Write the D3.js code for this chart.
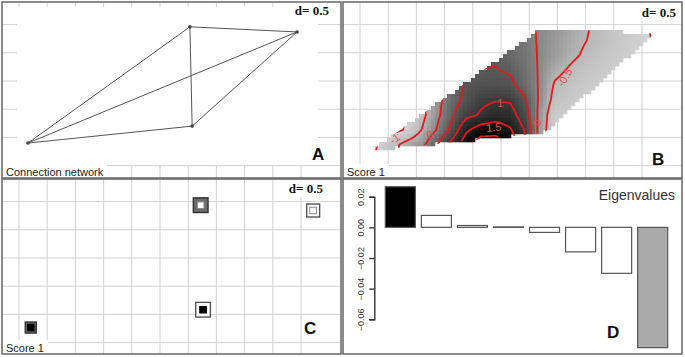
<!DOCTYPE html>
<html lang="en">
<head>
<meta charset="UTF-8">
<script src="https://d3js.org/d3.v7.min.js"></script>
<style>
  body { margin: 0; background: #fff; }
  svg { display: block; font-family: "Liberation Sans", Arial, sans-serif; }
</style>
</head>
<body>
<div id="chart"></div>
<script>
// Sites (coordinates in map units) and their connections
const siteU = [-2.34, 0.53, 2.43, 0.57];
const siteV = [-1.10, 0.96, 0.87, -0.80];
const links = [[0, 1], [0, 2], [0, 3], [1, 2], [1, 3], [2, 3]];

// Score 1 of each site (panel C), and the sign of its neighbourhood mean
const score1 = [0.75, -1.0, -0.88, 1.0];
const lagScore1 = [1, 1, -1, -1];

// Grid lines (d = 0.5)
const gridU = [-2.5, -2, -1.5, -1, -0.5, 0, 0.5, 1, 1.5, 2, 2.5];
const gridV = [1, 0.5, 0, -0.5, -1, -1.5];

// Interpolated score 1 surface (panel B)
const surfaceU = [-2.5, -2.25, -2, -1.75, -1.5, -1.25, -1, -0.75, -0.5, -0.25, 0, 0.25, 0.5, 0.75, 1, 1.25, 1.5, 1.75, 2, 2.25, 2.5];
const surfaceV = [1, 0.75, 0.5, 0.25, 0, -0.25, -0.5, -0.75, -1, -1.25];
const surfaceZ = [
  [-1.2, -1.15, -1.0, -0.8, -0.55, -0.3, 0.0, 0.2, 0.3, 0.3, 0.25, 0.12, -0.05, -0.15, -0.3, -0.45, -0.58, -0.72, -0.85, -0.97, -1.05],
  [-1.2, -1.15, -1.0, -0.8, -0.5, -0.2, 0.1, 0.3, 0.4, 0.38, 0.3, 0.15, -0.05, -0.2, -0.35, -0.48, -0.6, -0.75, -0.85, -0.95, -1.05],
  [-1.2, -1.1, -0.95, -0.7, -0.4, -0.05, 0.25, 0.4, 0.45, 0.45, 0.35, 0.2, -0.05, -0.22, -0.4, -0.55, -0.7, -0.8, -0.87, -0.95, -1.02],
  [-1.2, -1.1, -0.95, -0.7, -0.4, -0.05, 0.3, 0.45, 0.5, 0.52, 0.45, 0.25, -0.05, -0.38, -0.55, -0.7, -0.78, -0.85, -0.9, -0.95, -1.0],
  [-1.2, -1.1, -0.95, -0.7, -0.35, 0.0, 0.3, 0.55, 0.62, 0.65, 0.6, 0.3, -0.05, -0.55, -0.7, -0.8, -0.85, -0.9, -0.92, -0.95, -1.0],
  [-1.25, -1.2, -1.1, -0.9, -0.6, -0.2, 0.3, 0.6, 0.9, 0.97, 0.95, 0.55, -0.08, -0.65, -0.78, -0.85, -0.9, -0.92, -0.95, -0.97, -1.0],
  [-1.3, -1.25, -1.15, -1.0, -0.65, -0.15, 0.4, 0.85, 1.05, 1.25, 1.2, 0.7, -0.15, -0.85, -0.9, -0.92, -0.95, -0.97, -1.0, -1.0, -1.0],
  [-1.35, -1.25, -1.15, -0.95, -0.5, 0.0, 0.6, 1.4, 1.75, 1.8, 1.55, 0.95, -0.2, -0.9, -0.95, -0.97, -1.0, -1.0, -1.0, -1.0, -1.0],
  [-1.3, -1.0, -0.65, -0.35, -0.15, 0.45, 1.15, 1.8, 2.3, 2.3, 1.9, 1.1, -0.2, -0.95, -1.0, -1.0, -1.0, -1.0, -1.0, -1.0, -1.0],
  [-1.3, -0.95, -0.6, -0.3, 0.0, 0.5, 1.2, 1.9, 2.4, 2.4, 2.0, 1.2, -0.2, -0.95, -1.0, -1.0, -1.0, -1.0, -1.0, -1.0, -1.0]
];
const contourLevels = [-1, -0.5, 0, 0.5, 1, 1.5, 2];

// Eigenvalues (panel D)
const eigenvalues = [0.0265, 0.0078, 0.0012, 0.0003, -0.0033, -0.0160, -0.0300, -0.0785];
const eigenTicks = [0.02, 0, -0.02, -0.04, -0.06];

const width = 685, height = 357;
const panelW = 339, panelH = 176;

const svg = d3.select("#chart").append("svg")
  .attr("width", width)
  .attr("height", height);

svg.append("rect").attr("width", width).attr("height", height).attr("fill", "#fff");

const panelA = svg.append("g").attr("transform", "translate(2,2)");
const panelB = svg.append("g").attr("transform", "translate(343,2)");
const panelC = svg.append("g").attr("transform", "translate(2,179)");
const panelD = svg.append("g").attr("transform", "translate(343,179)");

// Scales: grid frame (also used by the network) and data frame for B / C
const gridX = d3.scaleLinear().domain([0, 1]).range([158, 214.4]);
const gridY = d3.scaleLinear().domain([0, 1]).range([79, 22.6]);
const dataX = d3.scaleLinear().domain([0, 1]).range([167.3, 226.5]);
const dataY = d3.scaleLinear().domain([0, 1]).range([83.2, 23.8]);

function drawGrid(g, h) {
  const grid = g.append("g").attr("stroke", "#d2d2d2").attr("stroke-width", 1);
  grid.selectAll("line.v").data(gridU).join("line")
    .attr("class", "v")
    .attr("x1", d => gridX(d)).attr("x2", d => gridX(d))
    .attr("y1", 0).attr("y2", h);
  grid.selectAll("line.h").data(gridV).join("line")
    .attr("class", "h")
    .attr("x1", 0).attr("x2", panelW)
    .attr("y1", d => gridY(d)).attr("y2", d => gridY(d));
}

function dLabel(g, xRight, baseline) {
  const box = g.append("rect").attr("fill", "#fff");
  const t = g.append("text")
    .attr("x", xRight).attr("y", baseline)
    .attr("text-anchor", "end")
    .attr("font-family", "'Liberation Serif', 'DejaVu Serif', serif")
    .attr("font-weight", "bold")
    .attr("font-size", 13)
    .attr("fill", "#111")
    .text("d= 0.5");
  const bb = t.node().getBBox();
  box.attr("x", bb.x - 3).attr("y", bb.y - 1).attr("width", bb.width + 6).attr("height", bb.height + 2);
}

function cornerLabel(g, label, boxW, h) {
  g.append("rect").attr("x", 0).attr("y", h - 14).attr("width", boxW).attr("height", 14).attr("fill", "#fff");
  g.append("text")
    .attr("x", 4).attr("y", h - 2.5)
    .attr("font-size", 11)
    .attr("fill", "#222")
    .text(label);
}

function panelLetter(g, letter, x, y) {
  g.append("text")
    .attr("x", x).attr("y", y)
    .attr("font-size", 17)
    .attr("font-weight", "bold")
    .attr("fill", "#111")
    .text(letter);
}

// ---------- Panel A: connection network ----------
drawGrid(panelA, panelH);
panelA.append("rect")
  .attr("x", 15).attr("y", 5).attr("width", 301).attr("height", 158)
  .attr("fill", "#fff");

panelA.selectAll("line.link")
  .data(links)
  .join("line")
  .attr("class", "link")
  .attr("x1", d => gridX(siteU[d[0]])).attr("y1", d => gridY(siteV[d[0]]))
  .attr("x2", d => gridX(siteU[d[1]])).attr("y2", d => gridY(siteV[d[1]]))
  .attr("stroke", "#555")
  .attr("stroke-width", 1);

panelA.selectAll("circle.site")
  .data(siteU)
  .join("circle")
  .attr("class", "site")
  .attr("cx", d => gridX(d))
  .attr("cy", (d, i) => gridY(siteV[i]))
  .attr("r", 1.8)
  .attr("fill", "#444");

dLabel(panelA, 327, 13);
cornerLabel(panelA, "Connection network", 105, panelH);
panelLetter(panelA, "A", 310, 158);

// ---------- Panel B: interpolated surface ----------
drawGrid(panelB, panelH);

function surfaceAt(u, v) {
  const du = surfaceU[1] - surfaceU[0];
  const dv = surfaceV[1] - surfaceV[0];
  let fi = (u - surfaceU[0]) / du;
  let fj = (v - surfaceV[0]) / dv;
  fi = Math.max(0, Math.min(surfaceU.length - 1.0001, fi));
  fj = Math.max(0, Math.min(surfaceV.length - 1.0001, fj));
  const i = Math.floor(fi), j = Math.floor(fj);
  const a = fi - i, b = fj - j;
  const z = surfaceZ;
  return (1 - a) * (1 - b) * z[j][i] + a * (1 - b) * z[j][i + 1]
    + (1 - a) * b * z[j + 1][i] + a * b * z[j + 1][i + 1];
}

const grayScale = d3.scaleLinear()
  .domain([-1.3, -0.5, 0, 0.5, 1, 2])
  .range(["#e6e6e6", "#b8b8b8", "#858585", "#5a5a5a", "#383838", "#000000"])
  .clamp(true);

const hullPx = d3.polygonHull(siteU.map((u, i) => [dataX(u), dataY(siteV[i])]));

const cell = 4;
const cells = [];
for (let x = 0; x < panelW; x += cell) {
  for (let y = 0; y < panelH; y += cell) {
    const cx = x + cell / 2, cy = y + cell / 2;
    if (d3.polygonContains(hullPx, [cx, cy])) {
      cells.push({ x, y, z: surfaceAt(dataX.invert(cx), dataY.invert(cy)) });
    }
  }
}

panelB.append("g").selectAll("rect")
  .data(cells)
  .join("rect")
  .attr("x", d => d.x).attr("y", d => d.y)
  .attr("width", cell + 0.3).attr("height", cell + 0.3)
  .attr("fill", d => grayScale(d.z));

panelB.append("clipPath").attr("id", "hullClip")
  .append("path").attr("d", "M" + hullPx.join("L") + "Z");

// fine sampling grid for the contour lines
const step = 0.05;
const nx = Math.round((surfaceU[surfaceU.length - 1] - surfaceU[0]) / step) + 1;
const ny = Math.round((surfaceV[0] - surfaceV[surfaceV.length - 1]) / step) + 1;
const fine = new Array(nx * ny);
for (let j = 0; j < ny; j++) {
  for (let i = 0; i < nx; i++) {
    fine[j * nx + i] = surfaceAt(surfaceU[0] + i * step, surfaceV[0] - j * step);
  }
}
const contours = d3.contours().size([nx, ny]).thresholds(contourLevels)(fine);
const toPanel = d3.geoTransform({
  point: function (x, y) {
    this.stream.point(dataX(surfaceU[0] + (x - 0.5) * step), dataY(surfaceV[0] - (y - 0.5) * step));
  }
});

panelB.append("g")
  .attr("clip-path", "url(#hullClip)")
  .selectAll("path")
  .data(contours)
  .join("path")
  .attr("d", d3.geoPath(toPanel))
  .attr("fill", "none")
  .attr("stroke", "#e3191c")
  .attr("stroke-width", 1.8);

// contour labels
const contourLabels = [
  { text: "-1", u: -1.95, v: -0.9, r: -35 },
  { text: "0", u: -1.36, v: -0.83, r: -30 },
  { text: "1", u: -0.17, v: -0.31, r: 0 },
  { text: "1.5", u: -0.28, v: -0.71, r: -5 },
  { text: "0", u: 0.45, v: -0.63, r: -90 },
  { text: "-0.5", u: 0.92, v: 0.13, r: -60 }
];
panelB.selectAll("text.clabel")
  .data(contourLabels)
  .join("text")
  .attr("class", "clabel")
  .attr("transform", d => `translate(${dataX(d.u)},${dataY(d.v)}) rotate(${d.r})`)
  .attr("text-anchor", "middle")
  .attr("dy", "0.35em")
  .attr("font-size", 11)
  .attr("fill", "#e05050")
  .text(d => d.text);

dLabel(panelB, 333, 14.5);
cornerLabel(panelB, "Score 1", 46, panelH);
panelLetter(panelB, "B", 309, 163);

// ---------- Panel C: score 1 as squares ----------
const cH = 175;
drawGrid(panelC, cH);

const sizeScale = d3.scaleLinear().domain([0, 1]).range([0, 14.7]);
const sites = siteU.map((u, i) => ({ u, v: siteV[i], s: score1[i], lag: lagScore1[i] }));

const sq = panelC.selectAll("g.site")
  .data(sites)
  .join("g")
  .attr("class", "site")
  .attr("transform", d => `translate(${dataX(d.u)},${dataY(d.v)})`);

sq.append("rect")
  .attr("x", d => -sizeScale(Math.abs(d.s)) / 2)
  .attr("y", d => -sizeScale(Math.abs(d.s)) / 2)
  .attr("width", d => sizeScale(Math.abs(d.s)))
  .attr("height", d => sizeScale(Math.abs(d.s)))
  .attr("fill", d => d.lag > 0 ? "#6a6a6a" : "#fff")
  .attr("stroke", d => d.lag > 0 ? "#333" : "#555")
  .attr("stroke-width", 1.4);

sq.append("rect")
  .attr("x", -3.3).attr("y", -3.3)
  .attr("width", 6.6).attr("height", 6.6)
  .attr("fill", d => d.s > 0 ? "#000" : "#fff")
  .attr("stroke", d => d.s > 0 ? "#000" : "#888")
  .attr("stroke-width", 1);

dLabel(panelC, 321, 14.3);
cornerLabel(panelC, "Score 1", 46, cH);
panelLetter(panelC, "C", 302, 155);

// ---------- Panel D: eigenvalues ----------
const xD = d3.scaleBand()
  .domain(eigenvalues.map((d, i) => i + 1))
  .range([42.3, 324.7])
  .paddingInner(0.167)
  .paddingOuter(0);

const yD = d3.scaleLinear()
  .domain([-0.06, 0.02])
  .range([140.3, 17.7]);

panelD.selectAll("rect.bar")
  .data(eigenvalues)
  .join("rect")
  .attr("class", "bar")
  .attr("x", (d, i) => xD(i + 1))
  .attr("y", d => yD(Math.max(0, d)))
  .attr("width", xD.bandwidth())
  .attr("height", d => Math.abs(yD(d) - yD(0)))
  .attr("fill", (d, i) => i === 0 ? "#000" : i === eigenvalues.length - 1 ? "#aaa" : "#fff")
  .attr("stroke", "#555")
  .attr("stroke-width", 1.2);

const axisD = panelD.append("g")
  .attr("transform", "translate(31.3,0)")
  .call(d3.axisLeft(yD).tickValues(eigenTicks).tickFormat(d3.format(".2f")).tickSize(5).tickSizeOuter(5));

axisD.select(".domain").attr("stroke", "#333").attr("stroke-width", 1.4);
axisD.selectAll(".tick line").attr("stroke", "#333").attr("stroke-width", 1.4);
axisD.selectAll(".tick text")
  .attr("transform", "rotate(-90)")
  .attr("x", 0)
  .attr("y", -10.5)
  .attr("dy", 0)
  .attr("text-anchor", "middle")
  .attr("font-family", "'Liberation Sans', Arial, sans-serif")
  .attr("font-size", 9)
  .attr("fill", "#333");

panelD.append("text")
  .attr("x", 255.7).attr("y", 20.5)
  .attr("font-size", 14)
  .attr("fill", "#333")
  .text("Eigenvalues");

panelLetter(panelD, "D", 264, 159);

// ---------- panel frames ----------
[[panelA, panelH], [panelB, panelH], [panelC, cH], [panelD, cH]].forEach(([g, h]) => {
  g.append("rect")
    .attr("x", 0).attr("y", 0)
    .attr("width", panelW).attr("height", h)
    .attr("fill", "none")
    .attr("stroke", "#666")
    .attr("stroke-width", 1.5);
});
</script>
</body>
</html>
